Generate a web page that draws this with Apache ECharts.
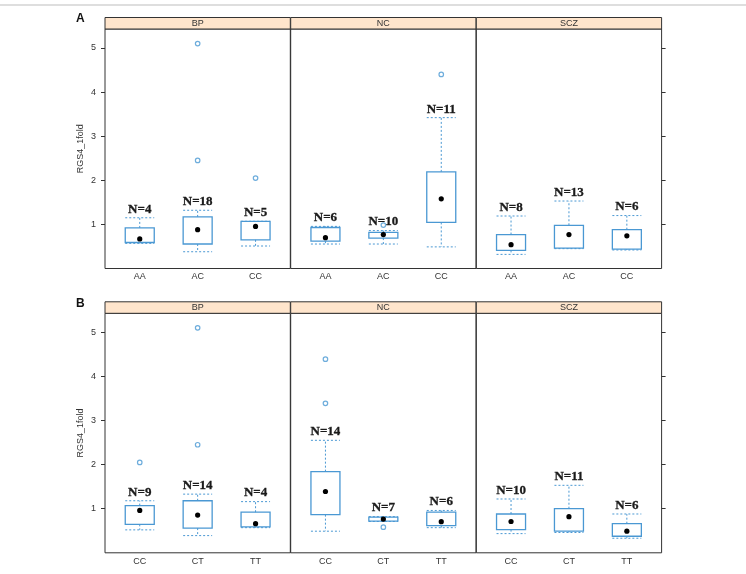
<!DOCTYPE html>
<html>
<head>
<meta charset="utf-8">
<script src="https://cdn.jsdelivr.net/npm/echarts@6/dist/echarts.min.js"></script>
<style>
html, body { margin: 0; padding: 0; background: #fff; }
#main { width: 746px; height: 574px; }
</style>
</head>
<body>
<div id="main"></div>
<script>
// 面板分组和基因型
var groups = ['BP', 'NC', 'SCZ'];
var genoA = ['AA', 'AC', 'CC'];
var genoB = ['CC', 'CT', 'TT'];

// 每个箱子: [下须, Q1, 中位数, Q3, 上须]
var statsA = [
    [[0.57, 0.59, 0.67, 0.92, 1.15], [0.38, 0.555, 0.88, 1.17, 1.32], [0.51, 0.65, 0.955, 1.07, 1.07]],
    [[0.555, 0.62, 0.70, 0.93, 0.955], [0.555, 0.69, 0.77, 0.82, 0.86], [0.49, 1.045, 1.58, 2.19, 3.42]],
    [[0.32, 0.41, 0.54, 0.77, 1.19], [0.45, 0.46, 0.77, 0.98, 1.53], [0.42, 0.44, 0.74, 0.88, 1.20]]
];
var statsB = [
    [[0.52, 0.645, 0.96, 1.07, 1.18], [0.39, 0.56, 0.855, 1.18, 1.33], [0.57, 0.59, 0.66, 0.92, 1.16]],
    [[0.49, 0.865, 1.39, 1.84, 2.55], [0.71, 0.72, 0.765, 0.81, 0.82], [0.57, 0.615, 0.705, 0.92, 0.96]],
    [[0.435, 0.525, 0.71, 0.88, 1.22], [0.46, 0.49, 0.82, 1.0, 1.53], [0.33, 0.375, 0.49, 0.66, 0.88]]
];
// 样本数
var nA = [[4, 18, 5], [6, 10, 11], [8, 13, 6]];
var nB = [[9, 14, 4], [14, 7, 6], [10, 11, 6]];
// 离群点 [基因型序号, 值]
var outA = [[[1, 2.45], [1, 5.1], [2, 2.05]], [[1, 0.985], [2, 4.40]], []];
var outB = [[[0, 2.05], [1, 2.45], [1, 5.1]], [[0, 3.39], [0, 4.39], [1, 0.58]], []];
var yTicks = [1, 2, 3, 4, 5];

var BLUE = '#4a98d3';
var rows = [
    {letter: 'A', geno: genoA, stats: statsA, n: nA, out: outA, top: 29},
    {letter: 'B', geno: genoB, stats: statsB, n: nB, out: outB, top: 313.3}
];
var colLeft = [105, 290.7, 476.3];
var colW = 185.3, gridH = 239.5, stripH = 11.5;

var myChart = echarts.init(document.getElementById('main'));

function renderBox(params, api) {
    var x = api.value(0);
    var lo = api.coord([x, api.value(1)]);
    var q1 = api.coord([x, api.value(2)]);
    var md = api.coord([x, api.value(3)]);
    var q3 = api.coord([x, api.value(4)]);
    var hi = api.coord([x, api.value(5)]);
    var w = 29, cx = md[0];
    var dot = {stroke: BLUE, lineWidth: 1, lineDash: [2, 2], fill: null};
    return {
        type: 'group',
        children: [
            {type: 'line', shape: {x1: cx, y1: q3[1], x2: cx, y2: hi[1]}, style: dot},
            {type: 'line', shape: {x1: cx, y1: q1[1], x2: cx, y2: lo[1]}, style: dot},
            {type: 'line', shape: {x1: cx - w / 2, y1: hi[1], x2: cx + w / 2, y2: hi[1]}, style: dot},
            {type: 'line', shape: {x1: cx - w / 2, y1: lo[1], x2: cx + w / 2, y2: lo[1]}, style: dot},
            {type: 'rect', shape: {x: cx - w / 2, y: q3[1], width: w, height: q1[1] - q3[1]},
                style: {fill: 'none', stroke: BLUE, lineWidth: 1.3}},
            {type: 'circle', shape: {cx: cx, cy: md[1], r: 2.6}, style: {fill: '#000'}},
            {type: 'text', x: cx, y: hi[1] - 2,
                style: {text: 'N=' + api.value(6), align: 'center', verticalAlign: 'bottom',
                    textAlign: 'center', textVerticalAlign: 'bottom',
                    font: 'bold 13px "Liberation Serif", serif', fill: '#1a1a1a',
                    stroke: '#1a1a1a', lineWidth: 0.3}}
        ]
    };
}

var grid = [], xAxis = [], yAxis = [], series = [], graphic = [];

graphic.push({type: 'line', shape: {x1: 0, y1: 5, x2: 746, y2: 5}, style: {stroke: '#bdbdbd', lineWidth: 1}});

rows.forEach(function (row, r) {
    graphic.push({type: 'text', left: 76, top: row.top - 16,
        style: {text: row.letter, font: 'bold 12px Arial, sans-serif', fill: '#111'}});
    groups.forEach(function (gname, c) {
        var g = r * 3 + c;
        grid.push({left: colLeft[c], top: row.top, width: colW, height: gridH,
            show: true, borderColor: '#333', borderWidth: 1, backgroundColor: 'transparent'});
        // 条带标题
        graphic.push({type: 'rect', shape: {x: colLeft[c], y: row.top - stripH, width: colW, height: stripH},
            style: {fill: '#ffe5cc', stroke: '#333', lineWidth: 1}});
        graphic.push({type: 'text', x: colLeft[c] + colW / 2, y: row.top - stripH / 2,
            style: {text: gname, align: 'center', verticalAlign: 'middle', textAlign: 'center',
                textVerticalAlign: 'middle', font: '9px Arial, sans-serif', fill: '#333'}});

        xAxis.push({
            type: 'value', gridIndex: g, min: -0.6, max: 2.6,
            axisLine: {show: false, onZero: false}, axisTick: {show: false}, splitLine: {show: false},
            axisLabel: {customValues: [0, 1, 2], fontSize: 9, color: '#333', margin: 4,
                formatter: function (v) { return row.geno[Math.round(v)]; }}
        });
        yAxis.push({
            type: 'value', gridIndex: g, min: 0, max: 5.43,
            position: c === 2 ? 'right' : 'left',
            name: c === 0 ? 'RGS4_1fold' : '', nameLocation: 'middle', nameGap: 20,
            nameTextStyle: {fontSize: 9, color: '#333'},
            axisLine: {show: false, onZero: false}, splitLine: {show: false},
            axisTick: {show: c !== 1, customValues: yTicks, length: 4, lineStyle: {color: '#333'}},
            axisLabel: {show: c === 0, customValues: yTicks, fontSize: 9, color: '#333', margin: 9}
        });

        var data = row.stats[c].map(function (s, i) {
            return [i, s[0], s[1], s[2], s[3], s[4], row.n[c][i]];
        });
        series.push({
            type: 'custom', xAxisIndex: g, yAxisIndex: g,
            renderItem: renderBox,
            encode: {x: 0, y: [1, 2, 3, 4, 5]},
            data: data, silent: true
        });
        series.push({
            type: 'scatter', xAxisIndex: g, yAxisIndex: g,
            symbol: 'circle', symbolSize: 4.5,
            itemStyle: {color: '#fff', borderColor: BLUE, borderWidth: 1.2},
            data: row.out[c], silent: true
        });
    });
});

var option = {
    animation: false,
    grid: grid,
    xAxis: xAxis,
    yAxis: yAxis,
    series: series,
    graphic: graphic
};

myChart.setOption(option);
</script>
</body>
</html>
